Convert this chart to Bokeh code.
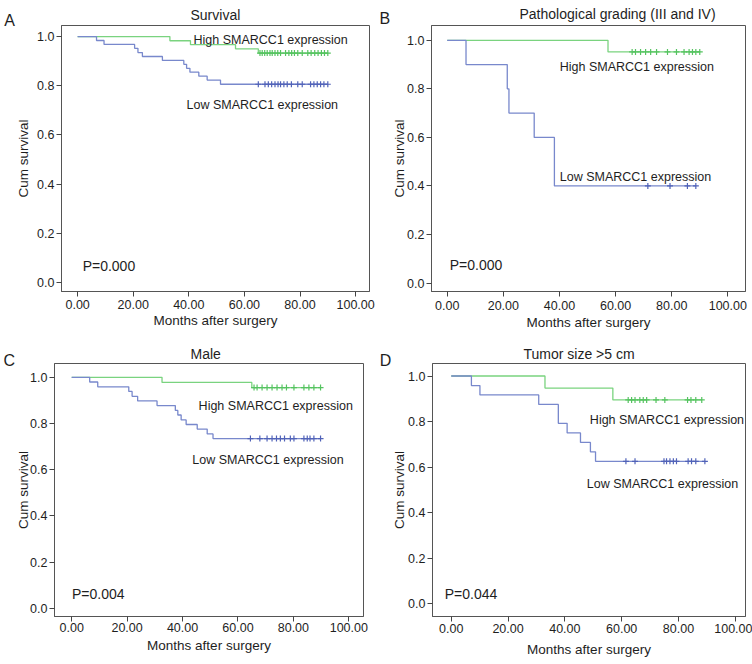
import numpy as np
from bokeh.plotting import figure
from bokeh.layouts import row, column
from bokeh.models import Label, FixedTicker, PrintfTickFormatter, Range1d
from bokeh.embed import file_html
from bokeh.resources import INLINE

FONT = "Liberation Sans"
TXT = "#1e1e1e"
GREEN = "#7ad37f"
GREEN_M = "#55c360"
BLUE = "#7888cc"
BLUE_M = "#5062b8"

x_ticks = [0, 20, 40, 60, 80, 100]
y_ticks = [0.0, 0.2, 0.4, 0.6, 0.8, 1.0]
x_label = "Months after surgery"
y_label = "Cum survival"
high_name = "High SMARCC1 expression"
low_name = "Low SMARCC1 expression"

# ---------------- Panel A: Survival ----------------
a_title = "Survival"
a_p = "P=0.000"
a_high_t = [33.2, 40.6, 56.8, 65.0]
a_high_s = [0.983, 0.967, 0.950, 0.933]
a_high_c = [65.6, 66.4, 67.3, 68.2, 69.2, 70.0, 71.0, 72.0, 73.0, 74.8, 76.0,
            77.0, 78.0, 79.2, 80.8, 82.8, 84.0, 85.3, 86.5, 87.7, 88.8, 90.0]
a_low_t = [6.8, 9.5, 20.5, 21.7, 23.3, 30.5, 38.2, 39.2, 40.4, 43.6, 46.6, 51.4]
a_low_s = [0.984, 0.968, 0.952, 0.935, 0.919, 0.903, 0.887, 0.871, 0.855,
           0.839, 0.823, 0.806]
a_low_c = [65.0, 67.4, 68.6, 69.8, 71.0, 72.1, 73.0, 74.2, 75.4, 76.9, 79.2,
           80.8, 83.8, 85.0, 86.2, 87.4, 88.6, 90.0]

# ---------------- Panel B: Pathological grading ----------------
b_title = "Pathological grading (III and IV)"
b_p = "P=0.000"
b_high_t = [57.3]
b_high_s = [0.952]
b_high_c = [65.9, 67.1, 68.9, 70.7, 72.5, 74.6, 78.5, 81.7, 84.4, 86.2, 87.4,
            88.6, 90.0]
b_low_t = [6.7, 21.4, 22.0, 31.0, 38.2]
b_low_s = [0.9, 0.8, 0.7, 0.6, 0.4]
b_low_c = [71.5, 79.4, 85.6, 88.6]

# ---------------- Panel C: Male ----------------
c_title = "Male"
c_p = "P=0.004"
c_high_t = [32.6, 65.0]
c_high_s = [0.978, 0.956]
c_high_c = [65.8, 66.9, 68.7, 70.5, 72.3, 74.1, 75.9, 77.5, 80.2, 83.8, 85.6,
            87.4, 89.8]
c_low_t = [6.5, 9.4, 20.6, 21.8, 23.8, 30.8, 37.4, 38.3, 39.5, 41.3, 45.3,
           48.9, 51.0]
c_low_s = [0.980, 0.959, 0.939, 0.918, 0.898, 0.878, 0.857, 0.837, 0.816,
           0.796, 0.776, 0.755, 0.735]
c_low_c = [64.5, 67.9, 70.5, 72.3, 73.9, 75.3, 76.8, 78.9, 80.2, 83.8, 85.0,
           86.0, 87.4, 89.8]

# ---------------- Panel D: Tumor size ----------------
d_title = "Tumor size >5 cm"
d_p = "P=0.044"
d_high_t = [33.0, 56.9]
d_high_s = [0.947, 0.895]
d_high_c = [62.3, 63.5, 64.7, 66.4, 67.6, 68.8, 72.1, 75.2, 83.2, 84.4, 86.1,
            88.2]
d_low_t = [7.1, 10.1, 30.8, 37.7, 40.8, 45.5, 49.0, 50.8]
d_low_s = [0.958, 0.917, 0.875, 0.792, 0.750, 0.708, 0.667, 0.625]
d_low_c = [61.5, 64.7, 74.9, 75.8, 77.0, 78.2, 79.3, 83.4, 84.6, 86.1, 89.3]


def km_xy(times, surv, cens):
    xs = [0.0] + list(times) + [max(cens)]
    ys = [1.0] + list(surv) + [surv[-1]]
    return xs, ys


def surv_at(times, surv, cens):
    out = []
    for t in cens:
        i = int(np.searchsorted(times, t, side="right"))
        out.append(1.0 if i == 0 else surv[i - 1])
    return out


def make_label(x, y, text, size, align="left"):
    return Label(x=x, y=y, text=text, text_font=FONT,
                 text_font_size=size, text_color=TXT,
                 text_align=align, text_baseline="alphabetic")


def make_panel(cfg):
    p = figure(width=cfg["w"], height=cfg["h"],
               x_range=Range1d(*cfg["xr"]), y_range=Range1d(*cfg["yr"]),
               output_backend="svg", toolbar_location=None,
               min_border_left=cfg["bl"], min_border_right=cfg["br"],
               min_border_top=cfg["bt"], min_border_bottom=cfg["bb"])
    p.title.text = cfg["title"]
    p.title.align = "left"
    p.title.offset = cfg["toff"]
    p.title.standoff = cfg["tst"]
    p.title.text_font = FONT
    p.title.text_font_size = "14px"
    p.title.text_font_style = "normal"
    p.title.text_color = TXT

    p.grid.visible = False
    p.outline_line_color = "#555555"
    p.outline_line_width = 1
    p.background_fill_color = "white"
    p.border_fill_color = "white"

    for ax in (p.xaxis[0], p.yaxis[0]):
        ax.axis_line_color = "#555555"
        ax.major_tick_line_color = "#444444"
        ax.major_tick_out = 5
        ax.major_tick_in = 0
        ax.minor_tick_out = 0
        ax.minor_tick_in = 0
        ax.major_label_text_font = FONT
        ax.major_label_text_font_size = "12.5px"
        ax.major_label_text_color = TXT
        ax.axis_label_text_font = FONT
        ax.axis_label_text_font_size = "13.5px"
        ax.axis_label_text_font_style = "normal"
        ax.axis_label_text_color = TXT

    p.xaxis[0].ticker = FixedTicker(ticks=x_ticks)
    p.xaxis[0].formatter = PrintfTickFormatter(format="%.2f")
    p.xaxis[0].axis_label = x_label
    p.xaxis[0].major_label_standoff = cfg["xms"]
    p.xaxis[0].axis_label_standoff = cfg["xas"]
    p.yaxis[0].ticker = FixedTicker(ticks=y_ticks)
    p.yaxis[0].formatter = PrintfTickFormatter(format="%.1f")
    p.yaxis[0].axis_label = y_label
    p.yaxis[0].major_label_standoff = 2
    p.yaxis[0].axis_label_standoff = cfg["ys"]

    for (t, s, c, col, mcol) in ((cfg["ht"], cfg["hs"], cfg["hc"], GREEN, GREEN_M),
                                  (cfg["lt"], cfg["ls"], cfg["lc"], BLUE, BLUE_M)):
        xs, ys = km_xy(t, s, c)
        p.step(xs, ys, mode="after", line_color=col, line_width=1.3)
        p.scatter(c, surv_at(t, s, c), marker="cross", size=6,
                  line_color=mcol, line_width=1.2)

    p.add_layout(make_label(*cfg["high_pos"], high_name, "12.5px"))
    p.add_layout(make_label(*cfg["low_pos"], low_name, "12.5px"))
    p.add_layout(make_label(*cfg["p_pos"], cfg["p"], "14px"))
    # panel letter lives in the left side panel so it is not clipped to the frame
    p.add_layout(make_label(*cfg["letter_pos"], cfg["letter"], "16px", "center"), "left")
    return p


cfg_a = dict(w=376, h=332, xr=(-5.8, 105.0), yr=(-0.037, 1.045),
             bl=61, br=7, bt=23, bb=37, ys=3, xms=3, xas=1,
             title=a_title, toff=129, tst=6,
             ht=a_high_t, hs=a_high_s, hc=a_high_c,
             lt=a_low_t, ls=a_low_s, lc=a_low_c,
             high_pos=(41.7, 0.987), low_pos=(39.2, 0.720),
             p_pos=(1.8, 0.066), p=a_p,
             letter_pos=(-24.5, 1.065), letter="A")

cfg_b = dict(w=376, h=332, xr=(-5.6, 106.3), yr=(-0.035, 1.061),
             bl=55, br=7, bt=24, bb=38, ys=-3, xms=4, xas=2,
             title=b_title, toff=88, tst=7,
             ht=b_high_t, hs=b_high_s, hc=b_high_c,
             lt=b_low_t, ls=b_low_s, lc=b_low_c,
             high_pos=(40.1, 0.890), low_pos=(40.1, 0.438),
             p_pos=(0.9, 0.075), p=b_p,
             letter_pos=(-22.2, 1.089), letter="B")

cfg_c = dict(w=376, h=332, xr=(-6.2, 105.3), yr=(-0.035, 1.060),
             bl=54, br=13, bt=31, bb=41, ys=-4, xms=1, xas=3,
             title=c_title, toff=136, tst=4,
             ht=c_high_t, hs=c_high_s, hc=c_high_c,
             lt=c_low_t, ls=c_low_s, lc=c_low_c,
             high_pos=(45.8, 0.878), low_pos=(43.5, 0.642),
             p_pos=(0.1, 0.062), p=c_p,
             letter_pos=(-22.5, 1.073), letter="C")

cfg_d = dict(w=376, h=332, xr=(-6.6, 103.6), yr=(-0.057, 1.055),
             bl=56, br=7, bt=30, bb=48, ys=-2, xms=2, xas=6,
             title=d_title, toff=91, tst=3,
             ht=d_high_t, hs=d_high_s, hc=d_high_c,
             lt=d_low_t, ls=d_low_s, lc=d_low_c,
             high_pos=(48.8, 0.806), low_pos=(47.7, 0.524),
             p_pos=(-2.3, 0.040), p=d_p,
             letter_pos=(-23.1, 1.070), letter="D")

layout = column(
    row(make_panel(cfg_a), make_panel(cfg_b)),
    row(make_panel(cfg_c), make_panel(cfg_d)),
)
open("out.html", "w").write(file_html(layout, INLINE))
